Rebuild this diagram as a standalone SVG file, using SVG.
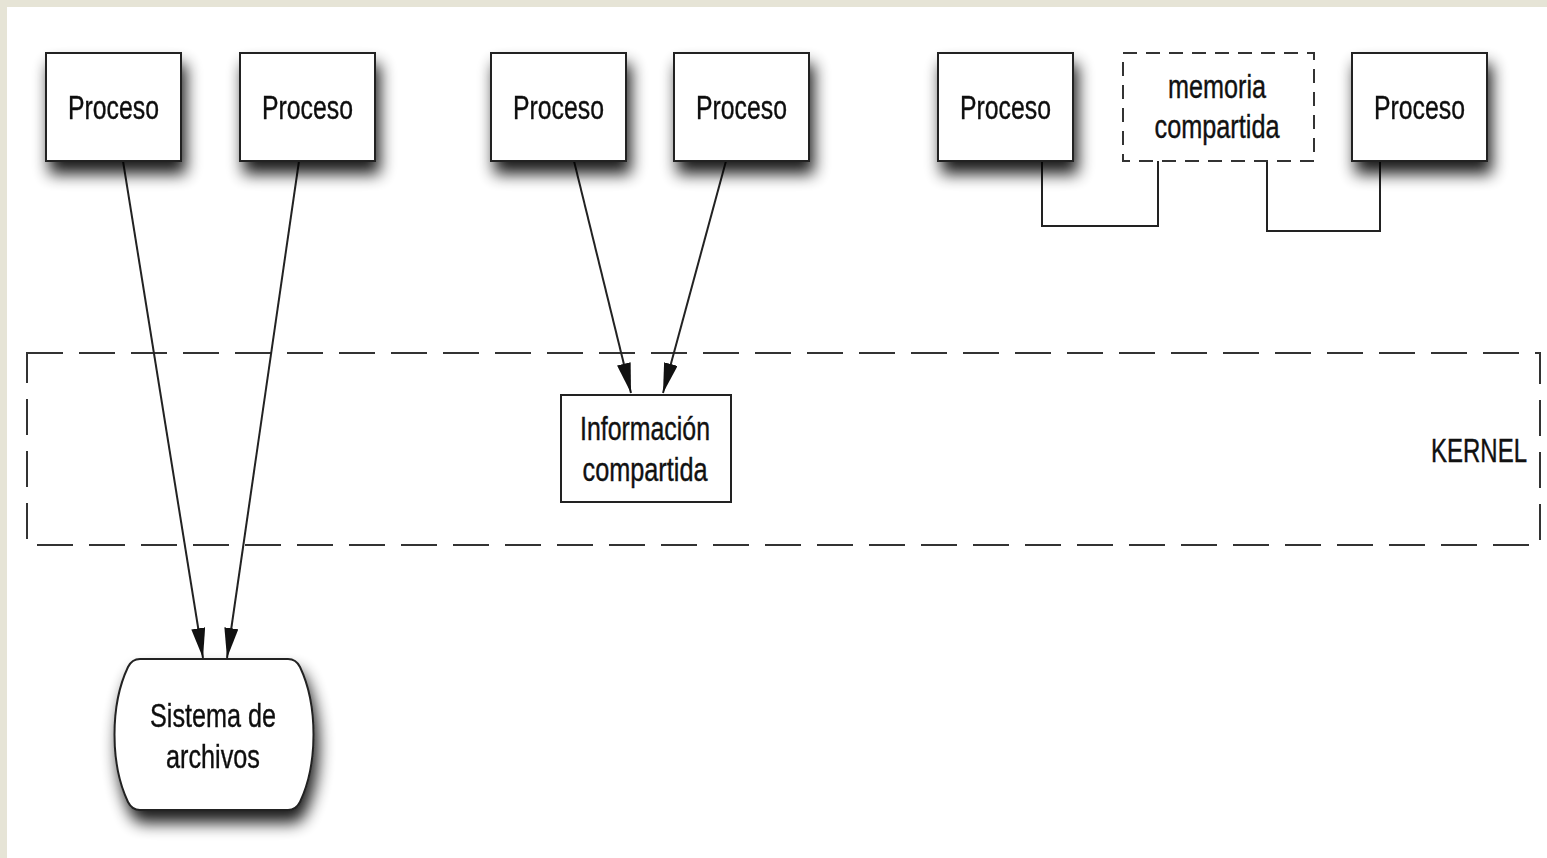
<svg xmlns="http://www.w3.org/2000/svg" width="1547" height="858" viewBox="0 0 1547 858">
  <style>
    .box { fill: #ffffff; stroke: #222222; stroke-width: 2; }
    .dash { fill: none; stroke: #333333; stroke-width: 2; stroke-dasharray: 36 16; }
    .dash2 { fill: none; stroke: #333333; stroke-width: 2; stroke-dasharray: 14 9; }
    .conn { fill: none; stroke: #222222; stroke-width: 2; }
    .lbl { font-family: "Liberation Sans", Arial, sans-serif; font-size: 33px; fill: #111111; stroke: #111111; stroke-width: 0.4; text-anchor: middle; }
  </style>
  <defs>
    <filter id="shadow" x="-25%" y="-25%" width="160%" height="170%">
      <feGaussianBlur in="SourceAlpha" stdDeviation="8"/>
      <feOffset dx="4" dy="12" result="b"/>
      <feComponentTransfer><feFuncA type="linear" slope="0.9"/></feComponentTransfer>
      <feMerge><feMergeNode/><feMergeNode in="SourceGraphic"/></feMerge>
    </filter>
    <marker id="arr" viewBox="0 0 30 14" refX="30" refY="7" markerWidth="30" markerHeight="14" markerUnits="userSpaceOnUse" orient="auto">
      <path d="M0,0 L30,7 L0,14 Z" fill="#111111"/>
    </marker>
  </defs>

  <rect x="0" y="0" width="1547" height="858" fill="#e6e4d6"/>
  <rect x="7" y="7" width="1540" height="851" fill="#ffffff"/>

  <g id="kernel">
    <rect x="27" y="353" width="1513" height="192" class="dash"/>
    <text class="lbl" x="1479" y="462" textLength="96" lengthAdjust="spacingAndGlyphs">KERNEL</text>
  </g>

  <g id="connectors">
    <line class="conn" x1="123" y1="161" x2="203" y2="658" marker-end="url(#arr)"/>
    <line class="conn" x1="299" y1="161" x2="227" y2="658" marker-end="url(#arr)"/>
    <line class="conn" x1="574" y1="161" x2="631" y2="393" marker-end="url(#arr)"/>
    <line class="conn" x1="726" y1="161" x2="663" y2="393" marker-end="url(#arr)"/>
    <polyline class="conn" points="1042,161 1042,226 1158,226 1158,161"/>
    <polyline class="conn" points="1380,161 1380,231 1267,231 1267,161"/>
  </g>

  <g id="proceso1" filter="url(#shadow)">
    <rect class="box" x="46" y="53" width="135" height="108"/>
    <text class="lbl" x="113.5" y="119" textLength="91" lengthAdjust="spacingAndGlyphs">Proceso</text>
  </g>
  <g id="proceso2" filter="url(#shadow)">
    <rect class="box" x="240" y="53" width="135" height="108"/>
    <text class="lbl" x="307.5" y="119" textLength="91" lengthAdjust="spacingAndGlyphs">Proceso</text>
  </g>
  <g id="proceso3" filter="url(#shadow)">
    <rect class="box" x="491" y="53" width="135" height="108"/>
    <text class="lbl" x="558.5" y="119" textLength="91" lengthAdjust="spacingAndGlyphs">Proceso</text>
  </g>
  <g id="proceso4" filter="url(#shadow)">
    <rect class="box" x="674" y="53" width="135" height="108"/>
    <text class="lbl" x="741.5" y="119" textLength="91" lengthAdjust="spacingAndGlyphs">Proceso</text>
  </g>
  <g id="proceso5" filter="url(#shadow)">
    <rect class="box" x="938" y="53" width="135" height="108"/>
    <text class="lbl" x="1005.5" y="119" textLength="91" lengthAdjust="spacingAndGlyphs">Proceso</text>
  </g>
  <g id="proceso6" filter="url(#shadow)">
    <rect class="box" x="1352" y="53" width="135" height="108"/>
    <text class="lbl" x="1419.5" y="119" textLength="91" lengthAdjust="spacingAndGlyphs">Proceso</text>
  </g>

  <g id="memoria">
    <rect class="dash2" x="1123" y="53" width="191" height="108"/>
    <text class="lbl" x="1217" y="98" textLength="98" lengthAdjust="spacingAndGlyphs">memoria</text>
    <text class="lbl" x="1217" y="138" textLength="125" lengthAdjust="spacingAndGlyphs">compartida</text>
  </g>

  <g id="informacion">
    <rect class="box" x="561" y="395" width="170" height="107"/>
    <text class="lbl" x="645" y="440" textLength="130" lengthAdjust="spacingAndGlyphs">Información</text>
    <text class="lbl" x="645" y="481" textLength="125" lengthAdjust="spacingAndGlyphs">compartida</text>
  </g>

  <g id="sistema" filter="url(#shadow)">
    <path class="box" d="M140,659 L288,659 Q296,659 300,667 C318,705 318,764 300,802 Q296,810 288,810 L140,810 Q132,810 128,802 C110,764 110,705 128,667 Q132,659 140,659 Z"/>
    <text class="lbl" x="213" y="727" textLength="126" lengthAdjust="spacingAndGlyphs">Sistema de</text>
    <text class="lbl" x="213" y="768" textLength="94" lengthAdjust="spacingAndGlyphs">archivos</text>
  </g>
</svg>
